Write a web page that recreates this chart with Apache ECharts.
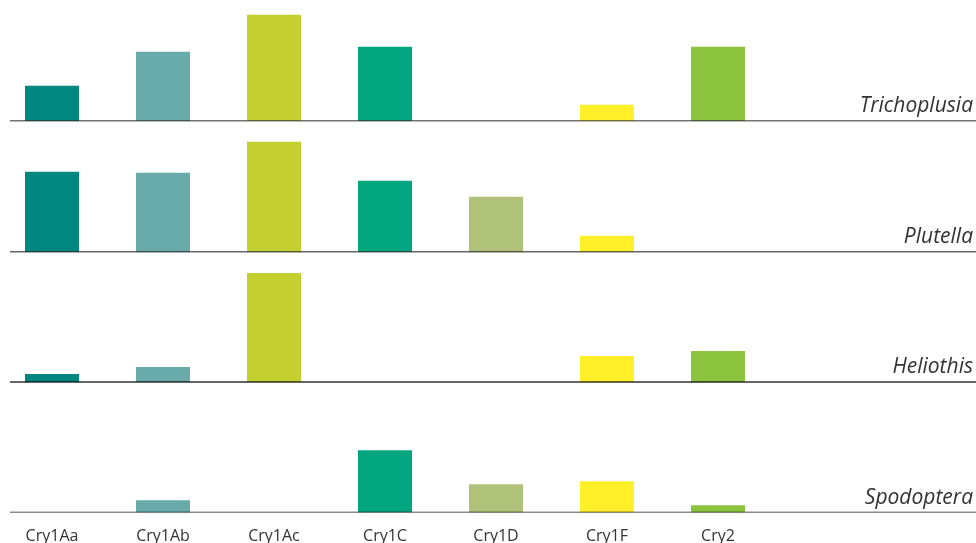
<!DOCTYPE html>
<html>
<head>
<meta charset="utf-8">
<script src="https://cdn.jsdelivr.net/npm/echarts@6/dist/echarts.min.js"></script>
<style>
html,body{margin:0;padding:0;background:#fff;}
#chart{width:976px;height:543px;}
</style>
</head>
<body>
<div id="chart"></div>
<script>
// ---- data ----
var categories = ['Cry1Aa', 'Cry1Ab', 'Cry1Ac', 'Cry1C', 'Cry1D', 'Cry1F', 'Cry2'];
var panelNames = ['Trichoplusia', 'Plutella', 'Heliothis', 'Spodoptera'];
var trichoplusia = [35, 69, 106, 74, 0, 16, 74];
var plutella     = [80, 79, 110, 71, 55, 16, 0];
var heliothis    = [8, 15, 109, 0, 0, 26, 31];
var spodoptera   = [0, 12, 0, 62, 28, 31, 7];
var barColors = ['#00877F', '#69ABAA', '#C4D030', '#02A780', '#B0C27A', '#FFF02A', '#8CC43F'];

// ---- layout ----
var panelValues = [trichoplusia, plutella, heliothis, spodoptera];
var baselines = [120.7, 251.7, 382, 512.3];
var lineColors = ['rgba(0,0,0,0.55)', 'rgba(0,0,0,0.6)', 'rgba(0,0,0,0.8)', 'rgba(0,0,0,0.45)'];
var slotW = 111, nSlots = 9, gridLeft = -3.5, panelH = 120, yMax = 120;
var axisCats = categories.concat(['', '']);

var grids = [], xAxes = [], yAxes = [], series = [], graphics = [];
panelValues.forEach(function (vals, i) {
  grids.push({
    left: gridLeft, top: baselines[i] - panelH, width: slotW * nSlots, height: panelH,
    containLabel: false, outerBoundsMode: 'none'
  });
  var isLast = i === panelValues.length - 1;
  xAxes.push({
    type: 'category', gridIndex: i, data: axisCats, boundaryGap: true,
    axisLine: { show: false }, axisTick: { show: false },
    axisLabel: {
      show: isLast, interval: 0, margin: 16, fontSize: 16, color: '#333',
      fontFamily: 'Open Sans'
    }
  });
  yAxes.push({
    type: 'value', gridIndex: i, min: 0, max: yMax, show: false,
    splitLine: { show: false }
  });
  series.push({
    type: 'bar', xAxisIndex: i, yAxisIndex: i, barWidth: 54,
    data: vals.map(function (v, k) {
      return { value: v, itemStyle: { color: barColors[k] } };
    }),
    silent: true, animation: false
  });
  graphics.push({
    type: 'line', z: 100,
    shape: { x1: 10, y1: baselines[i], x2: 976, y2: baselines[i] },
    style: { stroke: lineColors[i], lineWidth: 1.6 }
  });
  graphics.push({
    type: 'text', z: 100,
    style: {
      text: panelNames[i], x: 973, y: baselines[i] - 4,
      align: 'right', verticalAlign: 'bottom',
      font: 'italic 21px "Open Sans"', fill: '#333'
    }
  });
});

var chart = echarts.init(document.getElementById('chart'), null, { renderer: 'canvas' });
chart.setOption({
  animation: false,
  backgroundColor: '#fff',
  grid: grids,
  xAxis: xAxes,
  yAxis: yAxes,
  series: series,
  graphic: graphics
});
</script>
</body>
</html>
